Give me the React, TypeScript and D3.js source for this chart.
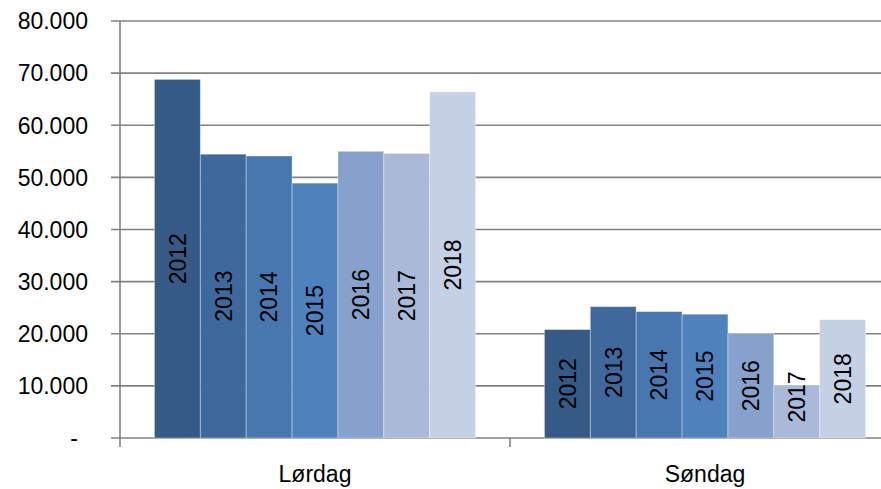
import React from "react";
import { scaleBand, scaleLinear, formatLocale } from "d3";

const categories = ["Lørdag", "Søndag"];
const years = ["2012", "2013", "2014", "2015", "2016", "2017", "2018"];
const lordagValues = [68800, 54450, 54100, 48900, 55000, 54600, 66400];
const sondagValues = [20800, 25200, 24250, 23750, 20050, 10150, 22700];
const yTicks = [0, 10000, 20000, 30000, 40000, 50000, 60000, 70000, 80000];
const yearColors = ["#355A86", "#3F699C", "#4876AE", "#4F81BD", "#86A1CC", "#AAB9D8", "#C4D0E3"];

const seriesByCategory = [lordagValues, sondagValues];

const fmt = formatLocale({ decimal: ",", thousands: ".", grouping: [3], currency: ["", ""] }).format(",");

export default function App() {
  const width = 881;
  const height = 489;
  const left = 120;
  const top = 21;
  const bottom = 438;

  // category bands run past the right edge like the original (clipped)
  const xOuter = scaleBand().domain(categories).range([left, 900]).padding(0);
  const xInner = scaleBand()
    .domain(years)
    .range([0, xOuter.bandwidth()])
    .paddingInner(0)
    .paddingOuter(0.75);
  const y = scaleLinear().domain([0, 80000]).range([bottom, top]);

  const fontFamily = "'Liberation Sans', Arial, sans-serif";
  const gridColor = "#828282";

  return (
    <div style={{ position: "absolute", left: 0, top: 0, width, height, background: "#fff" }}>
      <svg width={width} height={height} style={{ display: "block" }}>
        {/* gridlines + y ticks */}
        {yTicks.map((t) => (
          <line
            key={t}
            x1={left - 9}
            x2={width}
            y1={y(t)}
            y2={y(t)}
            stroke={gridColor}
            strokeWidth={1.6}
          />
        ))}
        {/* y axis */}
        <line x1={left} x2={left} y1={top} y2={bottom + 9} stroke={gridColor} strokeWidth={1.6} />
        {/* category ticks */}
        {categories.map((c) => (
          <line
            key={c}
            x1={xOuter(c)! + xOuter.bandwidth()}
            x2={xOuter(c)! + xOuter.bandwidth()}
            y1={bottom}
            y2={bottom + 9}
            stroke={gridColor}
            strokeWidth={1.6}
          />
        ))}

        {/* bars */}
        {categories.map((c, ci) =>
          years.map((yr, i) => {
            const v = seriesByCategory[ci][i];
            const x0 = xOuter(c)! + xInner(yr)!;
            const bw = xInner.bandwidth();
            const y1 = y(v);
            return (
              <rect
                key={c + yr}
                x={x0}
                y={y1}
                width={bw}
                height={bottom - y1}
                fill={yearColors[i]}
                stroke="#ffffff"
                strokeOpacity={0.45}
                strokeWidth={0.8}
              />
            );
          })
        )}

        {/* bar labels */}
        {categories.map((c, ci) =>
          years.map((yr, i) => {
            const v = seriesByCategory[ci][i];
            const cx = xOuter(c)! + xInner(yr)! + xInner.bandwidth() / 2;
            const mid = (y(v) + bottom) / 2;
            const cy = Math.min(mid, bottom - 41);
            return (
              <text
                key={"l" + c + yr}
                transform={`translate(${cx},${cy}) rotate(-90)`}
                textAnchor="middle"
                dy="0.36em"
                fontFamily={fontFamily}
                fontSize={23}
                fill="#000"
              >
                {yr}
              </text>
            );
          })
        )}

        {/* y tick labels */}
        {yTicks.map((t) => (
          <text
            key={"t" + t}
            x={t === 0 ? 78 : 88}
            y={y(t)}
            dy="0.36em"
            textAnchor="end"
            fontFamily={fontFamily}
            fontSize={23}
            fill="#000"
          >
            {t === 0 ? "-" : fmt(t)}
          </text>
        ))}

        {/* category labels */}
        {categories.map((c) => (
          <text
            key={"c" + c}
            x={xOuter(c)! + xOuter.bandwidth() / 2}
            y={482}
            textAnchor="middle"
            fontFamily={fontFamily}
            fontSize={23}
            fill="#000"
          >
            {c}
          </text>
        ))}
      </svg>
    </div>
  );
}
